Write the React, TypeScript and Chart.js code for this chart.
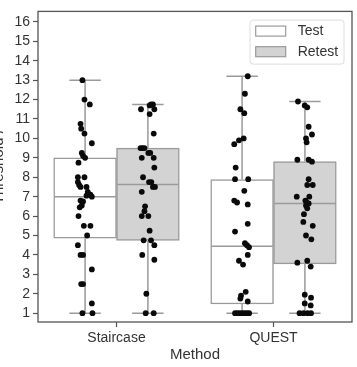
import React, { useEffect, useRef } from "react";
import { Chart, registerables } from "chart.js";

Chart.register(...registerables);

// Categories and axis ticks
const methods = ["Staircase", "QUEST"];
const yTicks = [1, 2, 3, 4, 5, 6, 7, 8, 9, 10, 11, 12, 13, 14, 15, 16];
const seriesNames = ["Test", "Retest"];

// Box statistics per method (Staircase, QUEST)
const testLow = [1.0, 1.0];
const testQ1 = [4.86, 1.47];
const testMedian = [7.0, 4.44];
const testQ3 = [9.0, 7.88];
const testHigh = [13.0, 13.2];

const retestLow = [1.0, 1.0];
const retestQ1 = [4.74, 3.54];
const retestMedian = [7.63, 6.65];
const retestQ3 = [9.5, 8.81];
const retestHigh = [11.75, 11.9];

// Individual thresholds and their strip jitter (fraction of a category)
const staircaseTest = [
  13.0, 12.0, 11.75, 10.75, 10.5, 10.25, 9.75, 9.25, 9.1, 9.0, 8.75, 8.0, 8.0,
  7.75, 7.6, 7.5, 7.5, 7.25, 7.1, 7.05, 7.0, 6.8, 6.75, 6.55, 6.45, 6.0, 5.5,
  5.5, 5.0, 4.5, 4.0, 4.0, 3.25, 2.5, 2.5, 1.5, 1.0, 1.0,
];
const staircaseTestJitter = [
  -0.017, -0.004, 0.03, -0.029, -0.025, -0.004, 0.043, -0.021, -0.013, 0.0,
  -0.042, -0.046, -0.004, -0.046, -0.038, -0.029, 0.009, 0.017, 0.034, 0.009,
  0.043, -0.029, -0.013, -0.021, -0.034, -0.042, -0.008, 0.034, 0.013, -0.046,
  -0.029, -0.013, 0.043, -0.025, -0.013, 0.043, -0.017, 0.047,
];

const staircaseRetest = [
  11.75, 11.75, 11.7, 11.5, 11.5, 11.25, 10.25, 9.5, 9.5, 9.5, 9.25, 9.25, 9.0,
  9.0, 8.5, 8.0, 7.75, 7.75, 7.5, 7.5, 7.25, 6.5, 6.25, 6.0, 6.0, 5.25, 4.75,
  4.75, 4.5, 4.0, 3.75, 2.0, 1.0, 1.0,
];
const staircaseRetestJitter = [
  0.02, 0.032, 0.011, -0.044, 0.041, 0.011, 0.037, -0.047, -0.034, -0.022,
  0.003, 0.015, -0.039, 0.037, 0.041, -0.031, 0.007, 0.022, 0.032, 0.045,
  -0.039, -0.018, -0.022, -0.039, 0.003, 0.011, -0.027, 0.02, 0.041, -0.036,
  0.041, -0.01, -0.014, 0.037,
];

const questTest = [
  13.2, 12.3, 11.5, 11.3, 10.0, 9.9, 9.7, 8.5, 7.9, 7.9, 7.3, 6.8, 6.7, 6.6,
  5.6, 5.2, 4.6, 4.5, 4.4, 4.0, 3.7, 3.5, 2.1, 1.9, 1.75, 1.6, 1.0, 1.0, 1.0,
  1.0, 1.0, 1.0, 1.0,
];
const questTestJitter = [
  0.036, 0.018, -0.011, 0.014, 0.01, -0.02, -0.05, -0.041, -0.045, 0.039,
  0.014, -0.05, -0.032, 0.036, 0.036, -0.045, 0.018, 0.031, 0.044, 0.036,
  -0.02, 0.006, 0.023, -0.007, -0.011, 0.036, -0.045, -0.03, -0.015, 0.0,
  0.015, 0.03, 0.045,
];

const questRetest = [
  11.9, 11.7, 11.6, 10.6, 10.2, 10.0, 9.8, 8.9, 8.9, 8.8, 7.9, 7.6, 7.6, 7.0,
  7.0, 6.8, 6.7, 6.65, 6.55, 6.4, 6.1, 5.7, 5.5, 5.0, 4.8, 3.7, 3.6, 3.4, 1.95,
  1.8, 1.5, 1.4, 1.0, 1.0, 1.0, 1.0,
];
const questRetestJitter = [
  -0.044, -0.001, 0.015, 0.024, 0.045, 0.007, 0.011, -0.048, 0.024, 0.045,
  0.024, 0.015, 0.05, -0.052, 0.028, 0.003, 0.011, 0.024, 0.007, 0.015,
  -0.006, -0.01, 0.05, 0.007, 0.041, 0.015, -0.048, 0.037, -0.001, 0.039,
  -0.001, 0.037, -0.034, -0.009, 0.017, 0.039,
];

const FONT = "'Liberation Sans', Arial, sans-serif";
const TEXT = "#333333";
const FRAME = "#555555";
const BOX_EDGE = "#9a9a9a";
const TEST_FILL = "#ffffff";
const RETEST_FILL = "#d3d3d3";

// Box offset from the category centre, and box width, in category units
const DODGE = 0.2;
const BOX_WIDTH = 0.4;

const strip = (vals: number[], jit: number[], cat: number, dodge: number) =>
  vals.map((v, i) => ({ x: cat + dodge + jit[i], y: v }));

// Whiskers, caps and medians drawn right after each box dataset
const whiskerPlugin = {
  id: "whiskers",
  afterDatasetDraw(chart: any, args: any) {
    const meta = args.meta;
    if (meta.type !== "bar") return;
    const stats =
      meta.index === 0
        ? { low: testLow, med: testMedian, high: testHigh, q1: testQ1, q3: testQ3 }
        : { low: retestLow, med: retestMedian, high: retestHigh, q1: retestQ1, q3: retestQ3 };
    const y = chart.scales.y;
    const ctx = chart.ctx;
    ctx.save();
    ctx.strokeStyle = BOX_EDGE;
    ctx.lineWidth = 1.5;
    meta.data.forEach((el: any, i: number) => {
      const { x, width } = el.getProps(["x", "width"], true);
      const hw = width / 2;
      const yLow = y.getPixelForValue(stats.low[i]);
      const yQ1 = y.getPixelForValue(stats.q1[i]);
      const yMed = y.getPixelForValue(stats.med[i]);
      const yQ3 = y.getPixelForValue(stats.q3[i]);
      const yHigh = y.getPixelForValue(stats.high[i]);
      ctx.beginPath();
      ctx.moveTo(x, yQ3);
      ctx.lineTo(x, yHigh);
      ctx.moveTo(x, yQ1);
      ctx.lineTo(x, yLow);
      ctx.moveTo(x - hw / 2, yHigh);
      ctx.lineTo(x + hw / 2, yHigh);
      ctx.moveTo(x - hw / 2, yLow);
      ctx.lineTo(x + hw / 2, yLow);
      ctx.moveTo(x - hw + 0.75, yMed);
      ctx.lineTo(x + hw - 0.75, yMed);
      ctx.stroke();
    });
    ctx.restore();
  },
};

// Axes frame and legend box
const framePlugin = {
  id: "frameAndLegend",
  afterDraw(chart: any) {
    const { ctx, chartArea } = chart;
    const { left, right, top, bottom } = chartArea;
    ctx.save();
    ctx.strokeStyle = FRAME;
    ctx.lineWidth = 1.3;
    ctx.strokeRect(left, top, right - left, bottom - top);

    const lw = 94;
    const lh = 44;
    const lx = right - 8 - lw;
    const ly = top + 8.7;
    const r = 3;
    ctx.beginPath();
    ctx.moveTo(lx + r, ly);
    ctx.lineTo(lx + lw - r, ly);
    ctx.quadraticCurveTo(lx + lw, ly, lx + lw, ly + r);
    ctx.lineTo(lx + lw, ly + lh - r);
    ctx.quadraticCurveTo(lx + lw, ly + lh, lx + lw - r, ly + lh);
    ctx.lineTo(lx + r, ly + lh);
    ctx.quadraticCurveTo(lx, ly + lh, lx, ly + lh - r);
    ctx.lineTo(lx, ly + r);
    ctx.quadraticCurveTo(lx, ly, lx + r, ly);
    ctx.closePath();
    ctx.fillStyle = "rgba(255,255,255,0.85)";
    ctx.fill();
    ctx.strokeStyle = "#dddddd";
    ctx.lineWidth = 1;
    ctx.stroke();

    const fills = [TEST_FILL, RETEST_FILL];
    ctx.font = `14px ${FONT}`;
    ctx.textBaseline = "middle";
    ctx.textAlign = "left";
    seriesNames.forEach((name, i) => {
      const sy = ly + 6 + i * 20.6;
      ctx.fillStyle = fills[i];
      ctx.fillRect(lx + 5.7, sy, 30, 10);
      ctx.strokeStyle = BOX_EDGE;
      ctx.lineWidth = 1.2;
      ctx.strokeRect(lx + 5.7, sy, 30, 10);
      ctx.fillStyle = TEXT;
      ctx.fillText(name, lx + 47.7, sy + 5.5);
    });
    ctx.restore();
  },
};

export default function App() {
  const canvasRef = useRef<HTMLCanvasElement | null>(null);

  useEffect(() => {
    if (!canvasRef.current) return;
    Chart.defaults.font.family = FONT;
    const pointStyle = {
      backgroundColor: "#0a0a0a",
      borderWidth: 0,
      pointRadius: 2.9,
      pointHoverRadius: 2.9,
      order: 1,
    };
    // box width in pixels follows the strip axis
    const boxThickness = (c: any) => {
      const s = c.chart.scales.xs;
      if (!s) return 60;
      return Math.abs(s.getPixelForValue(BOX_WIDTH) - s.getPixelForValue(0));
    };
    const boxStyle = {
      xAxisID: "xs",
      grouped: false,
      borderColor: BOX_EDGE,
      borderWidth: 1.5,
      borderSkipped: false,
      barThickness: boxThickness,
      barPercentage: 1.0,
      categoryPercentage: 1.0,
      order: 2,
    };
    const chart = new Chart(canvasRef.current, {
      type: "bar",
      data: {
        labels: methods,
        datasets: [
          {
            type: "bar",
            label: seriesNames[0],
            data: methods.map((_, i) => ({ x: i - DODGE, y: [testQ1[i], testQ3[i]] })),
            backgroundColor: TEST_FILL,
            ...boxStyle,
          } as any,
          {
            type: "bar",
            label: seriesNames[1],
            data: methods.map((_, i) => ({ x: i + DODGE, y: [retestQ1[i], retestQ3[i]] })),
            backgroundColor: RETEST_FILL,
            ...boxStyle,
          } as any,
          {
            type: "scatter",
            label: seriesNames[0] + " points",
            xAxisID: "xs",
            data: [
              ...strip(staircaseTest, staircaseTestJitter, 0, -DODGE),
              ...strip(questTest, questTestJitter, 1, -DODGE),
            ],
            ...pointStyle,
          } as any,
          {
            type: "scatter",
            label: seriesNames[1] + " points",
            xAxisID: "xs",
            data: [
              ...strip(staircaseRetest, staircaseRetestJitter, 0, DODGE),
              ...strip(questRetest, questRetestJitter, 1, DODGE),
            ],
            ...pointStyle,
          } as any,
        ],
      },
      options: {
        animation: false,
        responsive: false,
        devicePixelRatio: 1,
        layout: { padding: { top: 6, right: 5, left: 0, bottom: 0 } },
        plugins: {
          legend: { display: false },
          tooltip: { enabled: false },
        },
        scales: {
          x: {
            type: "category",
            offset: true,
            grid: {
              offset: false,
              drawOnChartArea: false,
              drawTicks: true,
              tickLength: 5,
              tickColor: FRAME,
              tickWidth: 1.2,
            },
            border: { display: false },
            ticks: { color: TEXT, font: { size: 14 }, padding: 3 },
            title: {
              display: true,
              text: "Method",
              color: TEXT,
              font: { size: 15 },
              padding: { top: 0, bottom: 3 },
            },
            afterFit: (scale: any) => {
              scale.height = 45;
            },
          },
          xs: {
            type: "linear",
            display: false,
            offset: false,
            grid: { offset: false },
            min: -0.5,
            max: 1.5,
          },
          y: {
            type: "linear",
            min: 0.545,
            max: 16.54,
            afterBuildTicks: (scale: any) => {
              scale.ticks = yTicks.map((v) => ({ value: v }));
            },
            grid: {
              drawOnChartArea: false,
              drawTicks: true,
              tickLength: 5,
              tickColor: FRAME,
              tickWidth: 1.2,
            },
            border: { display: false },
            ticks: { color: TEXT, font: { size: 14 }, padding: 3 },
            title: {
              display: true,
              text: "Threshold /",
              color: TEXT,
              font: { size: 15 },
              padding: { top: 0, bottom: 0 },
            },
            afterFit: (scale: any) => {
              scale.width = 48;
            },
          },
        },
      } as any,
      plugins: [whiskerPlugin, framePlugin],
    });
    return () => chart.destroy();
  }, []);

  return (
    <canvas
      ref={canvasRef}
      width={367}
      height={367}
      style={{ position: "fixed", left: -10, top: 0, width: 367, height: 367 }}
    />
  );
}
